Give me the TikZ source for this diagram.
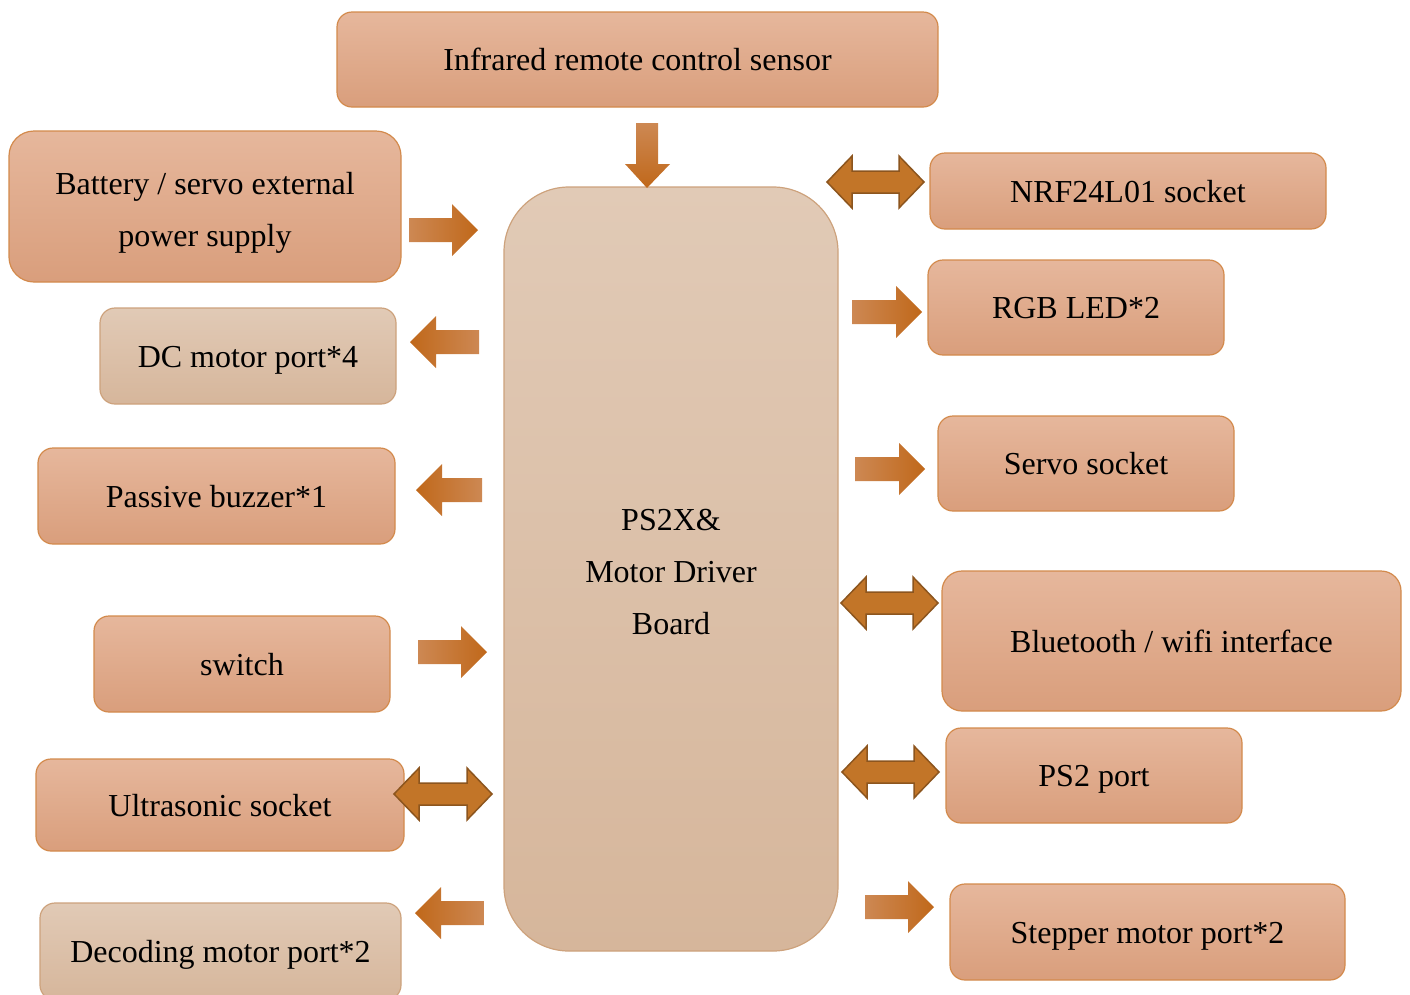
\documentclass[tikz,border=0pt]{standalone}
\usepackage{fontspec}
\setmainfont{Liberation Serif}
\definecolor{boxtop}{HTML}{E6B79C}
\definecolor{boxbot}{HTML}{D99E7C}
\definecolor{boxline}{HTML}{D38A4C}
\definecolor{tantop}{HTML}{E1CAB6}
\definecolor{tanbot}{HTML}{D6B69B}
\definecolor{tanline}{HTML}{CDA27C}
\definecolor{arrtail}{HTML}{CD8853}
\definecolor{arrhead}{HTML}{C0681A}
\definecolor{dblfill}{HTML}{C27528}
\definecolor{dblline}{HTML}{8C551E}
\newcommand\mystrut{\rule[-8pt]{0pt}{38pt}}
\newcommand\mytallstrut{\rule[-8pt]{0pt}{43.5pt}}
\newcommand\myRArrow[3]{% tail x, tip x, centre y
  \shade[left color=arrtail,right color=arrhead]
    (#1,#3-12) -- (#2-26,#3-12) -- (#2-26,#3-26) -- (#2,#3) -- (#2-26,#3+26) -- (#2-26,#3+12) -- (#1,#3+12) -- cycle;}
\newcommand\myLArrow[3]{% tip x, tail x, centre y
  \shade[left color=arrhead,right color=arrtail]
    (#2,#3-12) -- (#1+26,#3-12) -- (#1+26,#3-26) -- (#1,#3) -- (#1+26,#3+26) -- (#1+26,#3+12) -- (#2,#3+12) -- cycle;}
\newcommand\myDblArrow[3]{% left tip, right tip, centre y
  \draw[draw=dblline,fill=dblfill,line width=1.5pt,line join=miter]
    (#1,#3) -- (#1+25,#3-26) -- (#1+25,#3-11) -- (#2-25,#3-11) -- (#2-25,#3-26) -- (#2,#3)
    -- (#2-25,#3+26) -- (#2-25,#3+11) -- (#1+25,#3+11) -- (#1+25,#3+26) -- cycle;}
\begin{document}
\begin{tikzpicture}[x=1pt,y=-1pt,
  box/.style={draw=boxline,line width=1.2pt,rounded corners=15pt,top color=boxtop,bottom color=boxbot,
    inner sep=0pt,align=center,font=\fontsize{32}{52}\selectfont,execute at begin node={\mystrut}},
  tanbox/.style={box,draw=tanline,top color=tantop,bottom color=tanbot}]
\useasboundingbox (0,0) rectangle (1410,994);
\clip (0,0) rectangle (1410,994);
% central board
\node[tanbox,rounded corners=65pt,minimum width=334pt,minimum height=764pt] (board) at (671,569) {\mytallstrut PS2X\&\\\mystrut Motor Driver\\\mystrut Board};
% top
\node[box,minimum width=601pt,minimum height=95pt] (ir) at (637.5,59.5) {Infrared remote control sensor};
% left column
\node[box,rounded corners=25pt,minimum width=392pt,minimum height=151pt] (batt) at (205,206.5) {\mytallstrut Battery / servo external\\\mystrut power supply};
\node[tanbox,minimum width=296pt,minimum height=96pt] (dc) at (248,356) {DC motor port*4};
\node[box,minimum width=357pt,minimum height=96pt] (buzz) at (216.5,496) {Passive buzzer*1};
\node[box,minimum width=296pt,minimum height=96pt] (sw) at (242,664) {switch};
\node[box,minimum width=368pt,minimum height=92pt] (ultra) at (220,805) {Ultrasonic socket};
\node[tanbox,minimum width=361pt,minimum height=97pt] (dec) at (220.5,951.5) {Decoding motor port*2};
% right column
\node[box,minimum width=396pt,minimum height=76pt] (nrf) at (1128,191) {NRF24L01 socket};
\node[box,minimum width=296pt,minimum height=95pt] (rgb) at (1076,307.5) {RGB LED*2};
\node[box,minimum width=296pt,minimum height=95pt] (servo) at (1086,463.5) {Servo socket};
\node[box,rounded corners=20pt,minimum width=459pt,minimum height=140pt] (bt) at (1171.5,641) {Bluetooth / wifi interface};
\node[box,minimum width=296pt,minimum height=95pt] (ps2) at (1094,775.5) {PS2 port};
\node[box,minimum width=395pt,minimum height=96pt] (step) at (1147.5,932) {Stepper motor port*2};
% arrows
\shade[top color=arrtail,bottom color=arrhead]
  (636,123) -- (658,123) -- (658,164) -- (670,164) -- (647,188) -- (625,164) -- (636,164) -- cycle;
\myRArrow{409}{478}{230}
\myLArrow{410}{479}{342}
\myLArrow{416}{482}{490}
\myRArrow{418}{487}{652}
\myDblArrow{394}{492}{794}
\myLArrow{415}{484}{913}
\myDblArrow{827}{924}{182}
\myRArrow{852}{922}{312}
\myRArrow{855}{925}{469}
\myDblArrow{841}{938}{603}
\myDblArrow{842}{939}{772}
\myRArrow{865}{934}{907}
\end{tikzpicture}
\end{document}
